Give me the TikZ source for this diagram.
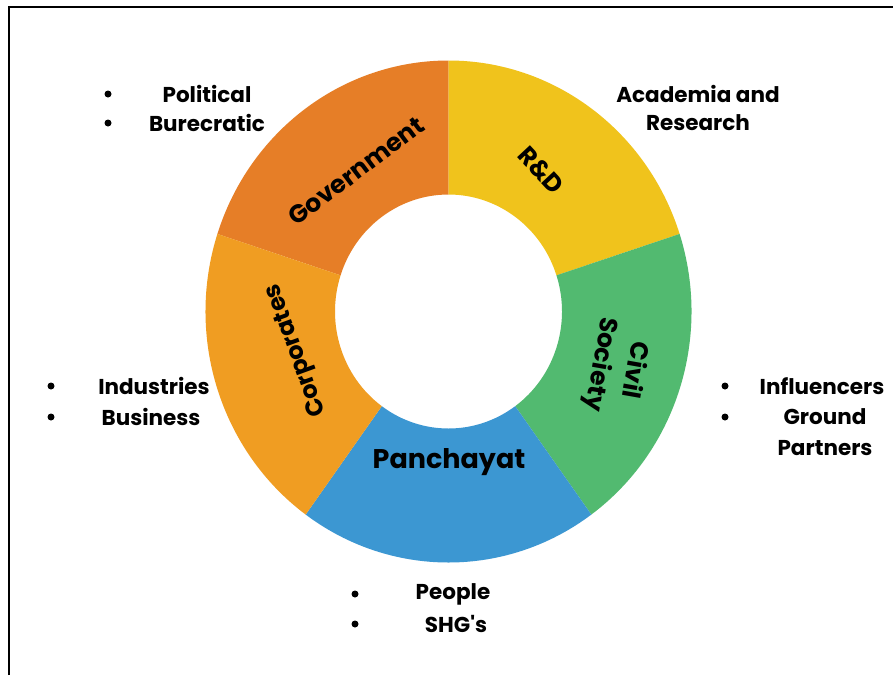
\documentclass[tikz,border=0pt]{standalone}
\usepackage{fontspec}
\setmainfont{Poppins}[Ligatures=TeXOff]
\definecolor{govc}{HTML}{E67E27}
\definecolor{rdc}{HTML}{F0C31C}
\definecolor{civc}{HTML}{52BA70}
\definecolor{panc}{HTML}{3C97D2}
\definecolor{corc}{HTML}{F09D22}
\tikzset{
  seglabel/.style={font=\bfseries\fontsize{25}{34}\selectfont, inner sep=0pt, align=center},
  outlabel/.style={font=\bfseries\fontsize{21.5}{24}\selectfont, inner sep=0pt, align=center},
  bulletdot/.style={circle, fill=black, inner sep=0pt, minimum size=7pt},
}
\newcommand{\donutseg}[3]{%
  \fill[#3] (#1:243 and 251) arc[start angle=#1, end angle=#2, x radius=243, y radius=251]
    -- (#2:113.5 and 117) arc[start angle=#2, end angle=#1, x radius=113.5, y radius=117] -- cycle;}
\begin{document}
\begin{tikzpicture}[x=1pt, y=-1pt]
\useasboundingbox (0,0) rectangle (893,675);
\fill[white] (0,0) rectangle (893,675);
% frame
\draw[line width=2pt] (9,675) -- (9,6.5) -- (893,6.5);
% donut
\begin{scope}[shift={(448.5,311.5)}, y=1pt]
  \donutseg{90}{162}{govc}
  \donutseg{18}{90}{rdc}
  \donutseg{-54}{18}{civc}
  \donutseg{-126}{-54}{panc}
  \donutseg{162}{234}{corc}
\end{scope}
% segment labels
\node[seglabel, rotate=37] (gov) at (356,171) {Government};
\node[seglabel, rotate=-47] (rd) at (541,170) {R\&D};
\node[seglabel, rotate=-100] (civ) at (617,367) {Civil\\Society};
\node[seglabel, font=\bfseries\fontsize{27}{30}\selectfont] (pan) at (449,462) {Panchayat};
\node[seglabel, font=\bfseries\fontsize{24}{30}\selectfont, rotate=110] (cor) at (297,350) {Corporates};
% outer labels
\node[bulletdot] (b1) at (108,94) {};
\node[bulletdot] (b2) at (108,123) {};
\node[outlabel] (pol) at (207,94) {Political};
\node[outlabel] (bur) at (207,123) {Burecratic};
\node[outlabel] (aca) at (698,94) {Academia and};
\node[outlabel] (res) at (698,123) {Research};
\node[bulletdot] (b3) at (51,386) {};
\node[bulletdot] (b4) at (51,417) {};
\node[outlabel] (ind) at (154,386) {Industries};
\node[outlabel] (bus) at (151,417) {Business};
\node[bulletdot] (b5) at (725,386) {};
\node[bulletdot] (b6) at (725,417) {};
\node[outlabel] (inf) at (822,386) {Influencers};
\node[outlabel] (gro) at (825,417) {Ground};
\node[outlabel] (par) at (825,448) {Partners};
\node[bulletdot] (b7) at (355,594) {};
\node[bulletdot] (b8) at (355,624) {};
\node[outlabel] (peo) at (453,594) {People};
\node[outlabel] (shg) at (456,624) {SHG's};
\end{tikzpicture}
\end{document}
